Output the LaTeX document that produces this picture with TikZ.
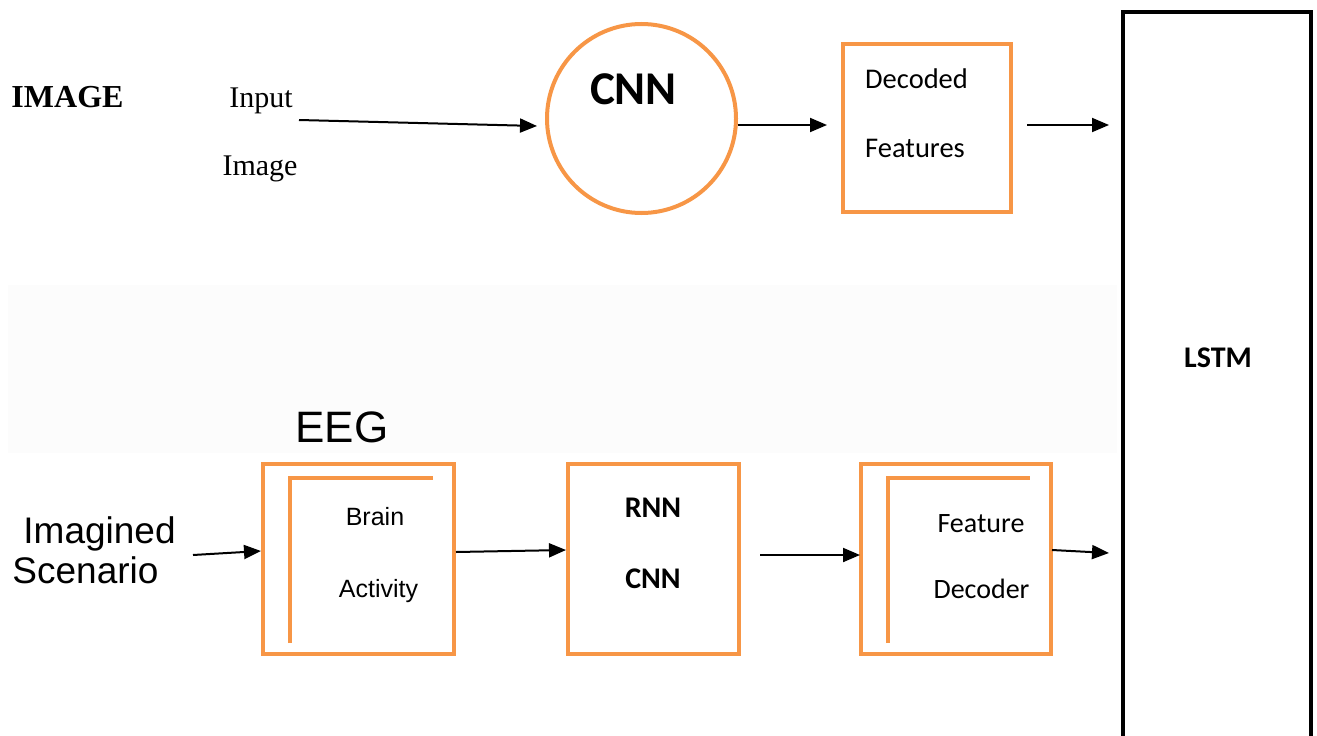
\documentclass[tikz,border=0pt]{standalone}
\usepackage{fontspec}
\setmainfont{Liberation Serif}
\newfontfamily\arialf{Liberation Sans}
\newfontfamily\calf{Carlito}
\usetikzlibrary{arrows.meta}
\definecolor{accorange}{HTML}{F79646}
\definecolor{bandgray}{HTML}{FCFCFC}
\begin{document}
\begin{tikzpicture}[x=1pt,y=-1pt,
  obox/.style={draw=accorange,line width=4pt,inner sep=0pt},
  arr/.style={line width=2pt,-{Triangle[length=17pt,width=14pt]}},
  inl/.style={draw=accorange,line width=4pt},
  txt/.style={inner sep=0pt,anchor=base}]
\useasboundingbox (0,0) rectangle (1317,736);
\fill[bandgray] (8,285) rectangle (1117,453);
% top row
\node[txt,font=\fontsize{32}{38}\selectfont\bfseries] (imgtitle) at (67.5,107) {IMAGE};
\node[txt,font=\fontsize{30}{36}\selectfont] (inp) at (261,107) {Input};
\node[txt,font=\fontsize{30}{36}\selectfont] (inpimg) at (260,175) {Image};
\node[circle,obox,minimum size=189pt] (cnn) at (641.5,118.5) {};
\node[txt,font=\fontsize{47}{52}\selectfont\calf\bfseries] (cnnlbl) at (633.5,104) {CNN};
\node[obox,minimum width=168pt,minimum height=168pt] (dec) at (927,128) {};
\node[txt,anchor=base west,font=\fontsize{28.5}{34}\selectfont\calf] (declbl1) at (865,88) {Decoded};
\node[txt,anchor=base west,font=\fontsize{28.5}{34}\selectfont\calf] (declbl2) at (865,157) {Features};
\node[draw=black,line width=4pt,minimum width=188pt,minimum height=740pt] (lstm) at (1217,382) {};
\node[txt,font=\fontsize{30}{34}\selectfont\calf\bfseries] (lstmlbl) at (1218,367) {LSTM};
% bottom row
\node[txt,font=\fontsize{44}{50}\selectfont\arialf] (eeg) at (342,442) {EEG};
\node[txt,font=\fontsize{37}{42}\selectfont\arialf] (imag1) at (99.5,543) {Imagined};
\node[txt,font=\fontsize{37}{42}\selectfont\arialf] (imag2) at (85.5,583) {Scenario};
\node[obox,minimum width=191pt,minimum height=190pt] (brain) at (358,559) {};
\draw[inl] (290,643) -- (290,478) -- (433,478);
\node[txt,font=\fontsize{25}{30}\selectfont\arialf] (brainlbl1) at (375,525) {Brain};
\node[txt,font=\fontsize{25}{30}\selectfont\arialf] (brainlbl2) at (378.5,597) {Activity};
\node[obox,minimum width=171pt,minimum height=190pt] (rnn) at (653.5,559) {};
\node[txt,font=\fontsize{30}{36}\selectfont\calf\bfseries] (rnnlbl1) at (653,517) {RNN};
\node[txt,font=\fontsize{30}{36}\selectfont\calf\bfseries] (rnnlbl2) at (653,588) {CNN};
\node[obox,minimum width=190pt,minimum height=190pt] (feat) at (956,559) {};
\draw[inl] (888,643) -- (888,478) -- (1030,478);
\node[txt,font=\fontsize{28}{34}\selectfont\calf] (featlbl1) at (981,532) {Feature};
\node[txt,font=\fontsize{28}{34}\selectfont\calf] (featlbl2) at (981.5,598) {Decoder};
% arrow end points
\coordinate (a1s) at (299,120);
\coordinate (a1e) at (537,126);
\coordinate (a2s) at (738,125);
\coordinate (a2e) at (827,125);
\coordinate (a3s) at (1027,125);
\coordinate (a3e) at (1109,125);
\coordinate (b1s) at (193,555);
\coordinate (b1e) at (261,551);
\coordinate (b2s) at (456,552);
\coordinate (b2e) at (566,550);
\coordinate (b3s) at (760,555);
\coordinate (b3e) at (860,555);
\coordinate (b4s) at (1052,550);
\coordinate (b4e) at (1109,553);
\draw[arr] (a1s) -- (a1e);
\draw[arr] (a2s) -- (a2e);
\draw[arr] (a3s) -- (a3e);
\draw[arr] (b1s) -- (b1e);
\draw[arr] (b2s) -- (b2e);
\draw[arr] (b3s) -- (b3e);
\draw[arr] (b4s) -- (b4e);
\end{tikzpicture}
\end{document}
